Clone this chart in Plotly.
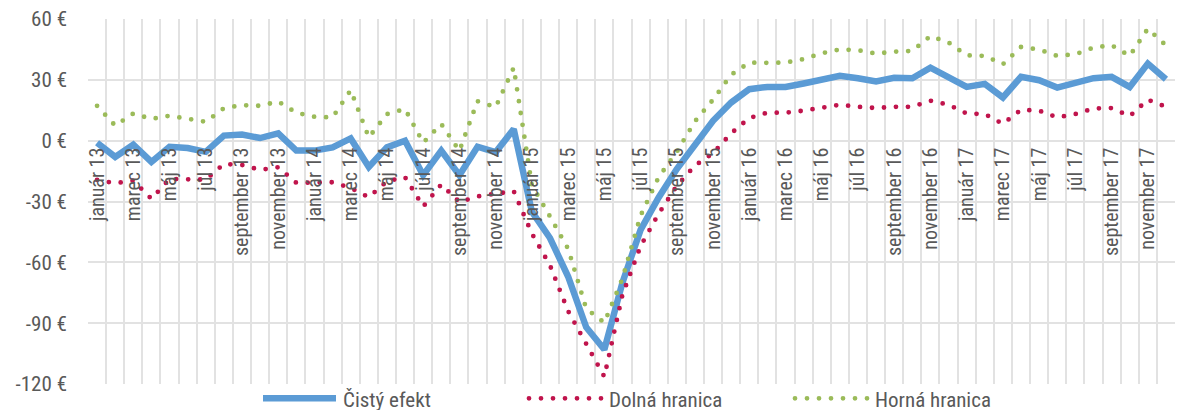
import plotly.graph_objects as go

month_names = ["január", "február", "marec", "apríl", "máj", "jún", "júl",
               "august", "september", "október", "november", "december"]
years = ["13", "14", "15", "16", "17"]
categories = [f"{m} {y}" for y in years for m in month_names]

cisty_efekt = [
    -1, -8, -2, -10.5, -3, -3.6, -5.5, 2.5, 3, 1.3, 3.6, -4.9,
    -4.9, -3.3, 1.1, -13, -3.3, 0, -17, -4.9, -17, -3, -5.7, 5.7,
    -35, -48, -67, -92, -103, -70, -44, -28, -14, -1.5, 9.8, 18.8,
    25.4, 26.5, 26.5, 28.2, 30.3, 32, 30.8, 29.2, 31, 30.8, 36, 31.5,
    26.5, 28, 21.3, 31.5, 29.8, 26.2, 28.2, 30.8, 31.5, 26.5, 38, 30.3,
]
dolna_hranica = [
    -19.3, -21, -19.7, -28.7, -18.9, -19.3, -19.2, -11.5, -12, -14.4, -13.1, -20.8,
    -20.5, -20.5, -23.3, -27.9, -20, -18, -32.5, -21.6, -30.3, -27.5, -26.2, -24.9,
    -45.8, -61.5, -84, -100.3, -116.4, -76, -52, -36, -22.3, -12.3, -6.2, 3.6,
    11.2, 13.8, 13.8, 14.8, 16.4, 17.7, 16.7, 16.1, 16.7, 16.7, 19.7, 17.7,
    13.4, 13.1, 8.3, 15.2, 14.8, 11.5, 13.1, 15.9, 16.1, 12.1, 20.2, 16.7,
]
horna_hranica = [
    17.2, 7.4, 13.4, 10.7, 12.3, 10.7, 9.3, 16, 17.5, 17.2, 19.3, 13.8,
    11.8, 11.5, 24.9, 1.6, 13.1, 15.6, -1, 8.2, -5, 19.5, 16.5, 36,
    -22, -37.4, -53.3, -82.8, -89.8, -68, -37, -18, -5.5, 9.5, 20.2, 32.5,
    38.5, 38.4, 38.5, 40.2, 43.1, 45, 44.6, 42.9, 43.9, 44.3, 51.6, 48.4,
    42.1, 41.8, 37.7, 46.2, 44.9, 41.8, 42.6, 45.9, 47.1, 41.8, 55.2, 47,
]
y_tick_values = [-120, -90, -60, -30, 0, 30, 60]
y_tick_labels = ["-120 €", "-90 €", "-60 €", "-30 €", "0 €", "30 €", "60 €"]
x_tick_labels = [c if i % 2 == 0 else "" for i, c in enumerate(categories)]

FONT = "Liberation Sans Narrow, Arial Narrow, Roboto Condensed, Liberation Sans, sans-serif"
TXT = "#595959"
GRID = "#e2e2e2"

fig = go.Figure()
fig.add_trace(go.Scatter(x=categories, y=cisty_efekt, name="Čistý efekt", mode="lines",
                         line=dict(color="#5B9BD5", width=6.5)))
fig.add_trace(go.Scatter(x=categories, y=dolna_hranica, name="Dolná hranica", mode="lines",
                         line=dict(color="#C0144C", width=4.8, dash="0px,12px")))
fig.add_trace(go.Scatter(x=categories, y=horna_hranica, name="Horná hranica", mode="lines",
                         line=dict(color="#9BBB59", width=4.8, dash="0px,12px")))

fig.update_layout(
    width=1178, height=410,
    margin=dict(l=88, r=3, t=19, b=26, autoexpand=False),
    paper_bgcolor="white", plot_bgcolor="white",
    font=dict(family=FONT, size=20, color=TXT),
    showlegend=True,
    legend=dict(orientation="h", x=(258 - 88) / 1087, xanchor="left", y=0.016, yanchor="top",
                font=dict(size=21, color=TXT), entrywidth=176, itemwidth=75,
                bgcolor="rgba(0,0,0,0)", tracegroupgap=0),
    xaxis=dict(type="category", range=[-0.5, 59.5], tickmode="array",
               tickvals=categories, ticktext=x_tick_labels, tickangle=-90,
               tickson="boundaries", ticks="", showgrid=True, gridcolor=GRID, gridwidth=1.5,
               anchor="free", position=2/3, showline=False, zeroline=False,
               ticklabelstandoff=2, tickfont=dict(size=20, color=TXT)),
    yaxis=dict(range=[-120, 60], tickmode="array", tickvals=y_tick_values,
               ticktext=y_tick_labels, showgrid=True, gridcolor=GRID, gridwidth=2,
               zeroline=False, showline=False, ticks="", ticklabelstandoff=20,
               tickfont=dict(size=21, color=TXT)),
)

post = """
document.body.style.margin = '0';
document.querySelectorAll('path.js-line').forEach(function(p){
  var d = p.style.strokeDasharray || p.getAttribute('stroke-dasharray') || '';
  if (d && d.indexOf('0px') === 0) { p.style.strokeLinecap = 'round'; }
});
document.querySelectorAll('.legend .legendlines path').forEach(function(p){
  p.setAttribute('d', 'M5,0h73');
});
"""
fig.write_html("out.html", post_script=post, config={"displayModeBar": False})
